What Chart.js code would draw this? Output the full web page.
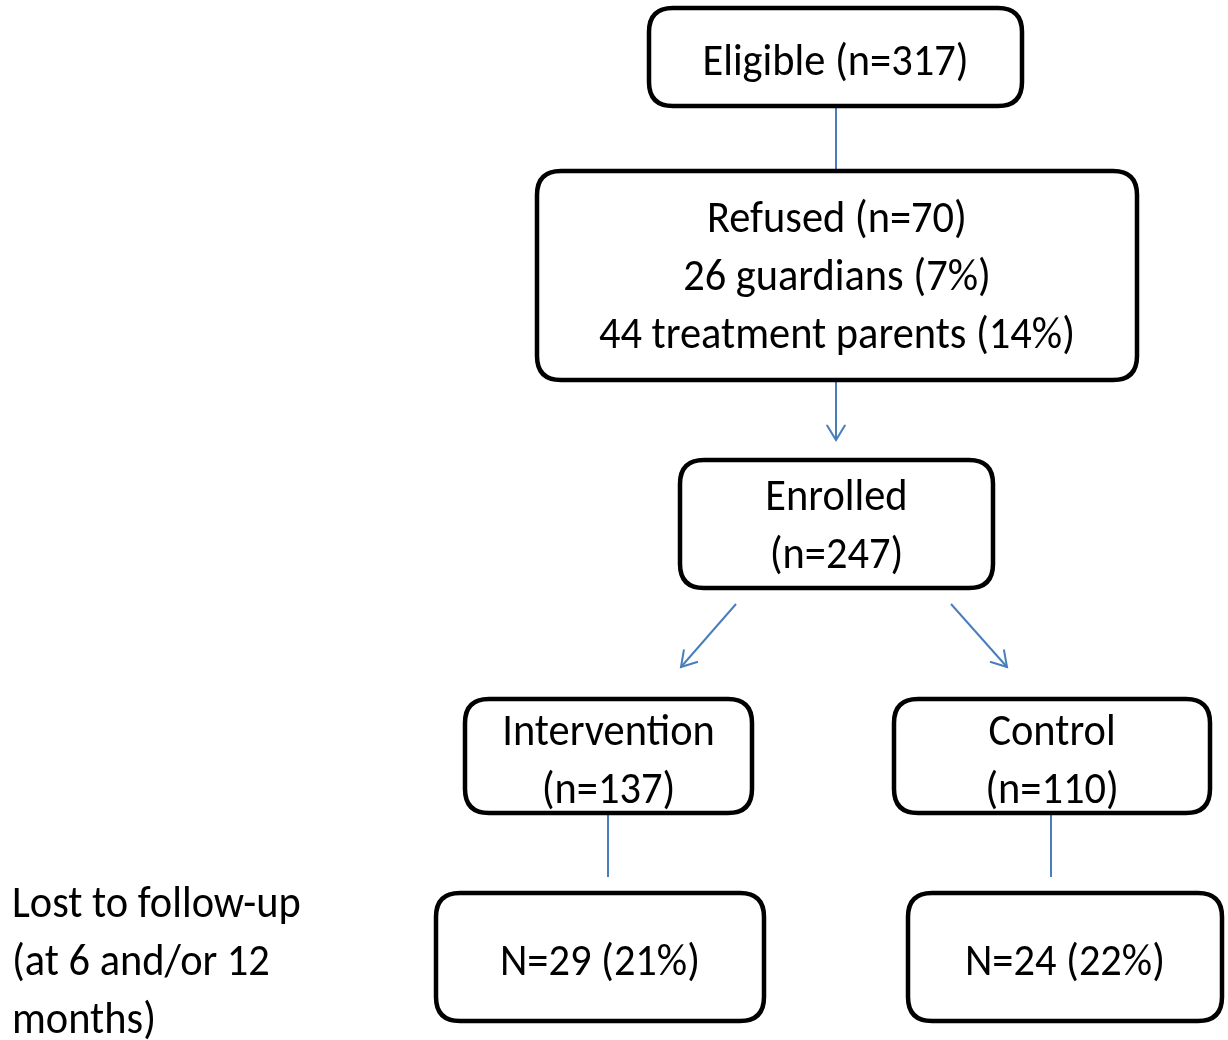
<!DOCTYPE html>
<html>
<head>
<meta charset="utf-8">
<script src="https://cdn.jsdelivr.net/npm/chart.js@4.4.1/dist/chart.umd.min.js"></script>
<style>
html,body{margin:0;padding:0;background:#fff;}
#wrap{width:1228px;height:1040px;}
</style>
</head>
<body>
<div id="wrap"><canvas id="c" width="1228" height="1040"></canvas></div>
<script>
// ---- content ----
const nodeNames = ["eligible","refused","enrolled","intervention","control","lostIntervention","lostControl"];
const nodeLines = [
  ["Eligible (n=317)"],
  ["Refused (n=70)", "26 guardians (7%)", "44 treatment parents (14%)"],
  ["Enrolled", "(n=247)"],
  ["Intervention", "(n=137)"],
  ["Control", "(n=110)"],
  ["N=29 (21%)"],
  ["N=24 (22%)"]
];
const sideNote = ["Lost to follow-up", "(at 6 and/or 12", "months)"];

// ---- layout (chart units: x 0..1228, y 0..1040 top-down) ----
const boxLeft   = [649, 537, 680, 465, 894, 436, 908];
const boxRight  = [1022, 1137, 993, 752, 1210, 764, 1222];
const boxTop    = [8, 171, 460, 699, 699, 893, 893];
const boxBottom = [106, 380, 588, 813, 813, 1021, 1021];
const firstBaseline = [75, 232, 510, 745, 745, 975, 975];
const lineGap = 58;
const sideX = 12, sideBaseline = 917;

// connectors
const connFrom = [[836,106],[836,380],[736,604],[951,604],[608,813],[1051,813]];
const connTo   = [[836,171],[836,440],[681,667],[1007,667],[608,877],[1051,877]];
const connArrow = [false,true,true,true,false,false];

// ---- font pick ----
function hasFont(f){
  const c=document.createElement('canvas').getContext('2d');
  const s='Eligible (n=317) 44 treatment parents';
  for(const fb of ['monospace','serif']){
    c.font='40px '+fb; const a=c.measureText(s).width;
    c.font='40px "'+f+'", '+fb; const b=c.measureText(s).width;
    if(Math.abs(a-b)<0.5) return false;
  }
  return true;
}
const fontCandidates=['Carlito','Calibri','Liberation Sans Narrow','Open Sans','DejaVu Sans'];
let FONT='sans-serif';
for(const f of fontCandidates){ if(hasFont(f)){FONT='"'+f+'"';break;} }
const FONT_SIZE=46;
const refWidth=476;
let sx=1;
(function(){const c=document.createElement('canvas').getContext('2d');c.font=FONT_SIZE+'px '+FONT;sx=refWidth/c.measureText("44 treatment parents (14%)").width;})();

function rr(ctx,x,y,w,h,r){
  ctx.beginPath();
  ctx.moveTo(x+r,y);ctx.lineTo(x+w-r,y);ctx.quadraticCurveTo(x+w,y,x+w,y+r);
  ctx.lineTo(x+w,y+h-r);ctx.quadraticCurveTo(x+w,y+h,x+w-r,y+h);
  ctx.lineTo(x+r,y+h);ctx.quadraticCurveTo(x,y+h,x,y+h-r);
  ctx.lineTo(x,y+r);ctx.quadraticCurveTo(x,y,x+r,y);ctx.closePath();
}
function drawText(ctx,str,x,y,align){
  ctx.save();ctx.translate(x,y);ctx.scale(sx,1);
  ctx.textAlign=align;ctx.textBaseline='alphabetic';
  ctx.fillText(str,0,0);ctx.restore();
}

const flowPlugin={
  id:'flow',
  afterDatasetsDraw(chart){
    const ctx=chart.ctx, X=chart.scales.x, Y=chart.scales.y;
    ctx.save();
    ctx.strokeStyle='#4A7EBB';ctx.lineWidth=2;ctx.lineCap='round';
    connFrom.forEach((p,i)=>{
      if(!connArrow[i])return;
      const x1=X.getPixelForValue(p[0]),y1=Y.getPixelForValue(p[1]);
      const x2=X.getPixelForValue(connTo[i][0]),y2=Y.getPixelForValue(connTo[i][1]);
      const a=Math.atan2(y2-y1,x2-x1),L=17,w=0.55;
      ctx.beginPath();
      ctx.moveTo(x2-L*Math.cos(a-w),y2-L*Math.sin(a-w));
      ctx.lineTo(x2,y2);
      ctx.lineTo(x2-L*Math.cos(a+w),y2-L*Math.sin(a+w));
      ctx.stroke();
    });
    ctx.strokeStyle='#000';ctx.lineWidth=4.5;ctx.fillStyle='#fff';
    nodeNames.forEach((n,i)=>{
      const l=X.getPixelForValue(boxLeft[i]),r=X.getPixelForValue(boxRight[i]);
      const t=Y.getPixelForValue(boxTop[i]),b=Y.getPixelForValue(boxBottom[i]);
      rr(ctx,l,t,r-l,b-t,24);ctx.fill();ctx.stroke();
    });
    ctx.fillStyle='#000';ctx.font=FONT_SIZE+'px '+FONT;
    nodeLines.forEach((lines,i)=>{
      const cx=X.getPixelForValue((boxLeft[i]+boxRight[i])/2);
      lines.forEach((s,k)=>{
        drawText(ctx,s,cx,Y.getPixelForValue(firstBaseline[i]+k*lineGap),'center');
      });
    });
    sideNote.forEach((s,k)=>{
      drawText(ctx,s,X.getPixelForValue(sideX),Y.getPixelForValue(sideBaseline+k*lineGap),'left');
    });
    ctx.restore();
  }
};

const datasets=connFrom.map((p,i)=>({
  data:[{x:p[0],y:p[1]},{x:connTo[i][0],y:connTo[i][1]}],
  showLine:true,borderColor:'#4A7EBB',borderWidth:2,pointRadius:0,fill:false
}));

new Chart(document.getElementById('c'),{
  type:'scatter',
  data:{datasets},
  options:{
    responsive:false,animation:false,devicePixelRatio:1,
    layout:{padding:0},
    plugins:{legend:{display:false},tooltip:{enabled:false},title:{display:false}},
    scales:{
      x:{type:'linear',min:0,max:1228,display:false},
      y:{type:'linear',min:0,max:1040,reverse:true,display:false}
    }
  },
  plugins:[flowPlugin]
});
</script>
</body>
</html>
